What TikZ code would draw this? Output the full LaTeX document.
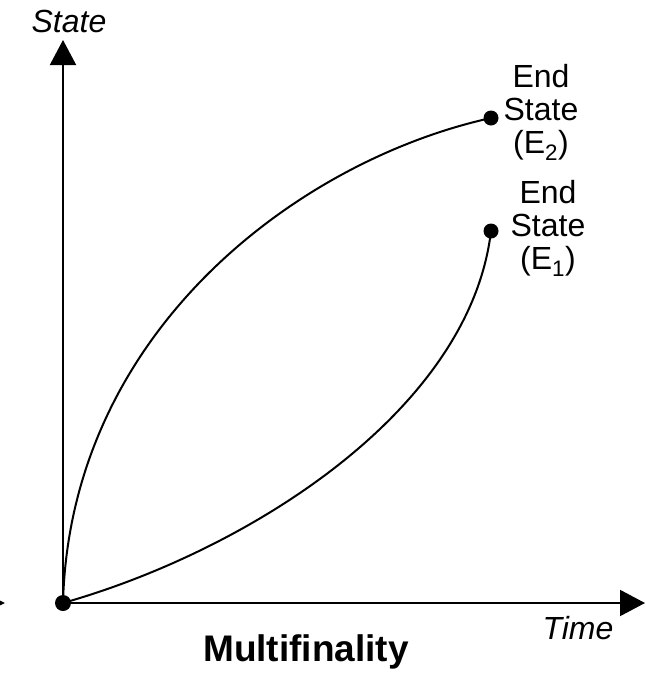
\documentclass[tikz,border=0pt]{standalone}
\usepackage{fontspec}
\setmainfont{Liberation Sans}
\usetikzlibrary{arrows.meta}
\tikzset{
  axis/.style={line width=2pt, -{Triangle[length=25pt,width=26pt]}},
  path line/.style={line width=2pt},
  dot/.style={circle, fill=black, inner sep=0pt, minimum size=15pt},
  endlabel/.style={align=center, font=\fontsize{32}{33}\selectfont, inner sep=0pt},
  axislabel/.style={font=\fontsize{32}{33}\selectfont\itshape, inner sep=0pt}
}
\begin{document}
\begin{tikzpicture}[x=1pt,y=-1pt]
\useasboundingbox (0,0) rectangle (646,673);
% arrow tip of a neighbouring figure at the left edge
\begin{scope}
  \clip (0,0) rectangle (646,673);
  \fill (-20,591) -- (5,603) -- (-20,615) -- cycle;
\end{scope}
% axes
\coordinate (O) at (63,603);
\coordinate (ytip) at (63,40);
\coordinate (xtip) at (645,603);
\draw[axis] (O) -- (ytip);
\draw[axis] (O) -- (xtip);
\node[axislabel] (ylab) at (69,21) {State};
\node[axislabel] (xlab) at (578,628) {Time};
% end states
\node[dot] (E2) at (491,118) {};
\node[dot] (E1) at (491,231) {};
\node[dot, minimum size=16pt] (start) at (O) {};
\draw[path line] (start.center) .. controls (70,330) and (300,160) .. (E2.center);
\draw[path line] (start.center) .. controls (250,550) and (470,410) .. (E1.center);
\node[endlabel] (E2lab) at (541,112) {End\\State\\(E\textsubscript{2})};
\node[endlabel] (E1lab) at (548,228) {End\\State\\(E\textsubscript{1})};
% title
\node[font=\fontsize{37}{39}\selectfont\bfseries, inner sep=0pt] (title) at (306,652) {Multifinality};
\end{tikzpicture}
\end{document}
